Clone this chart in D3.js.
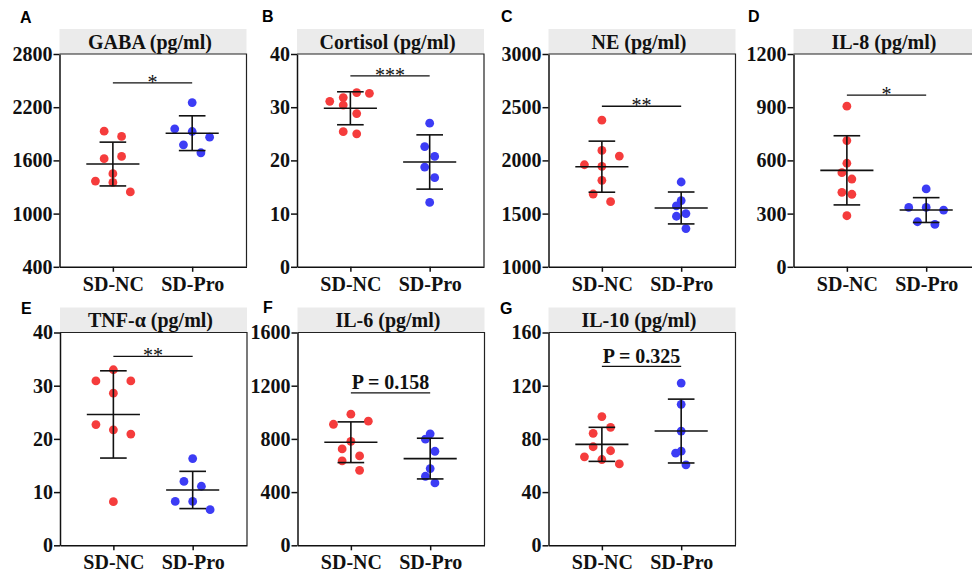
<!DOCTYPE html>
<meta charset="utf-8">
<script src="https://cdn.jsdelivr.net/npm/d3@7"></script>
<style>
  body { margin: 0; background: #fff; }
  .axis path, .axis line { stroke: #111; stroke-width: 1.5px; }
  .axis text { font-family: 'Liberation Serif', 'Times New Roman', serif; font-weight: bold; font-size: 20px; fill: #111; }
  .ttl { font-family: 'Liberation Serif', 'Times New Roman', serif; font-weight: bold; font-size: 20px; fill: #111; }
  .letter { font-family: 'Liberation Sans', Arial, sans-serif; font-weight: bold; font-size: 16px; fill: #000; }
</style>
<body>
<svg id="fig" width="972" height="572"></svg>
<script>

// ---- data ----
const letters = ["A", "B", "C", "D", "E", "F", "G"];
const titles = ["GABA (pg/ml)", "Cortisol (pg/ml)", "NE (pg/ml)", "IL-8 (pg/ml)",
                "TNF-α (pg/ml)", "IL-6 (pg/ml)", "IL-10 (pg/ml)"];
const groups = ["SD-NC", "SD-Pro"];

const yDomains = [[400, 2800], [0, 40], [1000, 3000], [0, 1200], [0, 40], [0, 1600], [0, 160]];
const yTicks = [
  [400, 1000, 1600, 2200, 2800],
  [0, 10, 20, 30, 40],
  [1000, 1500, 2000, 2500, 3000],
  [0, 300, 600, 900, 1200],
  [0, 10, 20, 30, 40],
  [0, 400, 800, 1200, 1600],
  [0, 40, 80, 120, 160]
];

const ncValues = [
  [1930, 1870, 1619, 1645, 1450, 1352, 1367, 1244],
  [31.1, 31.8, 32.75, 32.6, 30.4, 28.8, 25.4, 25.0],
  [2378, 2094, 1959, 2041, 1944, 1813, 1684, 1612],
  [906, 712, 584, 531, 495, 420, 409, 288],
  [33.0, 30.9, 30.9, 28.6, 22.7, 21.7, 20.9, 8.2],
  [986, 933, 910, 782, 725, 672, 635, 564],
  [96.8, 88.7, 84.2, 74.1, 71.1, 66.5, 64.5, 61.2]
];
const ncJitter = [
  [-0.11, 0.11, -0.11, 0.11, 0, 0, -0.22, 0.22],
  [-0.26, -0.09, 0.08, 0.24, -0.09, 0.08, -0.09, 0.08],
  [0, 0, -0.22, 0.22, 0, 0, -0.11, 0.11],
  [0, 0, 0, -0.063, 0.063, -0.063, 0.063, 0],
  [0, -0.22, 0.22, 0, -0.22, 0, 0.22, 0],
  [0, 0.22, -0.22, 0, -0.11, 0.11, -0.11, 0.11],
  [0, 0.11, -0.11, -0.11, 0.11, -0.22, 0, 0.22]
];
const proValues = [
  [2252, 1956, 1926, 1862, 1776, 1686],
  [27.0, 22.6, 20.75, 18.75, 16.75, 12.1],
  [1797, 1622, 1572, 1500, 1475, 1359],
  [439, 335, 335, 320, 254, 239],
  [16.3, 12.0, 11.1, 8.25, 8.25, 6.7],
  [838, 798, 707, 577, 519, 469],
  [122, 106, 85.9, 69.3, 70.8, 60.5]
];
const proJitter = [
  [0, -0.22, 0, 0.22, -0.11, 0.11],
  [0, -0.063, 0.063, -0.063, 0.063, 0],
  [0, 0, -0.06, 0.06, -0.06, 0.06],
  [0, -0.22, 0, 0.22, -0.11, 0.11],
  [0, -0.11, 0.11, -0.22, 0, 0.22],
  [0, -0.06, 0.06, 0, -0.06, 0.06],
  [0, 0, 0, -0.07, 0, 0.06]
];

// mean and SD as drawn
const ncMean = [1559, 29.8, 1941, 544, 24.6, 775, 75.9];
const ncSD   = [247, 3.1, 240, 195, 8.2, 153, 12.8];
const proMean = [1907, 19.7, 1553, 320, 10.4, 652, 85.9];
const proSD   = [196, 5.1, 150, 70, 3.5, 153, 24];

// significance bar level and label
const sigLevel = [2474, 35.9, 2509, 968, 35.5, 1146, 134.6];
const sigLabel = ["*", "***", "**", "*", "**", "P = 0.158", "P = 0.325"];

// ---- layout ----
const boxLeft = [59.5, 297, 548.5, 793.5, 60, 297.5, 548.5];
const boxTop = [54, 54, 54, 54, 332.5, 332.5, 332.5];
const boxW = 187, boxH = 212.8, stripH = 25;
const letterPos = [[20, 23], [262, 22], [501, 22], [748, 22], [21, 314], [263, 313], [500, 314]];
const red = "#f53c3c", blue = "#3c3cf5";

const svg = d3.select("#fig");

letters.forEach(function(letter, i) {
  var x0 = boxLeft[i], y0 = boxTop[i];
  var g = svg.append("g");

  var x = d3.scaleLinear().domain([0.327, 2.685]).range([x0, x0 + boxW]);
  var y = d3.scaleLinear().domain(yDomains[i]).range([y0 + boxH, y0]);

  // grey title strip
  g.append("rect")
    .attr("x", x0).attr("y", y0 - stripH)
    .attr("width", boxW).attr("height", stripH)
    .attr("fill", "#ebebeb");
  g.append("text").attr("class", "ttl")
    .attr("x", x0 + boxW / 2 - 3).attr("y", y0 - 5.5)
    .attr("text-anchor", "middle")
    .text(titles[i]);

  // frame top + right
  g.append("path")
    .attr("d", "M" + x0 + "," + y0 + "H" + (x0 + boxW) + "V" + (y0 + boxH))
    .attr("fill", "none").attr("stroke", "#222").attr("stroke-width", 1.2);

  // axes
  g.append("g").attr("class", "axis")
    .attr("transform", "translate(" + x0 + ",0)")
    .call(d3.axisLeft(y).tickValues(yTicks[i]).tickFormat(d3.format("d"))
      .tickSize(6).tickPadding(1).tickSizeOuter(0));
  g.append("g").attr("class", "axis")
    .attr("transform", "translate(0," + (y0 + boxH) + ")")
    .call(d3.axisBottom(x).tickValues([1, 2]).tickSize(5).tickPadding(5).tickSizeOuter(0)
      .tickFormat(function(d) { return groups[d - 1]; }));

  // points
  var pts = ncValues[i].map(function(v, j) { return { g: 1 + ncJitter[i][j], v: v, c: red }; })
    .concat(proValues[i].map(function(v, j) { return { g: 2 + proJitter[i][j], v: v, c: blue }; }));
  g.selectAll("circle").data(pts).enter().append("circle")
    .attr("cx", function(d) { return x(d.g); })
    .attr("cy", function(d) { return y(d.v); })
    .attr("r", 4.4)
    .attr("fill", function(d) { return d.c; });

  // mean +/- SD
  var stats = [{ g: 1, m: ncMean[i], s: ncSD[i] }, { g: 2, m: proMean[i], s: proSD[i] }];
  var eb = g.selectAll(".eb").data(stats).enter().append("g").attr("class", "eb")
    .attr("stroke", "#111").attr("stroke-width", 1.6);
  eb.append("line")
    .attr("x1", function(d) { return x(d.g - 0.335); })
    .attr("x2", function(d) { return x(d.g + 0.335); })
    .attr("y1", function(d) { return y(d.m); })
    .attr("y2", function(d) { return y(d.m); });
  eb.append("line")
    .attr("x1", function(d) { return x(d.g); })
    .attr("x2", function(d) { return x(d.g); })
    .attr("y1", function(d) { return y(d.m - d.s); })
    .attr("y2", function(d) { return y(d.m + d.s); });
  [-1, 1].forEach(function(k) {
    eb.append("line")
      .attr("x1", function(d) { return x(d.g - 0.168); })
      .attr("x2", function(d) { return x(d.g + 0.168); })
      .attr("y1", function(d) { return y(d.m + k * d.s); })
      .attr("y2", function(d) { return y(d.m + k * d.s); });
  });

  // significance
  var ys = y(sigLevel[i]);
  g.append("line")
    .attr("x1", x(1)).attr("x2", x(2))
    .attr("y1", ys).attr("y2", ys)
    .attr("stroke", "#111").attr("stroke-width", 1.3);
  var isP = sigLabel[i].charAt(0) === "P";
  g.append("text").attr("class", "ttl")
    .attr("x", x(1.5))
    .attr("y", isP ? ys - 3.5 : ys + 6)
    .attr("text-anchor", "middle")
    .style("font-weight", isP ? "bold" : "normal")
    .text(sigLabel[i]);

  svg.append("text").attr("class", "letter")
    .attr("x", letterPos[i][0]).attr("y", letterPos[i][1])
    .text(letter);
});

</script>
</body>
